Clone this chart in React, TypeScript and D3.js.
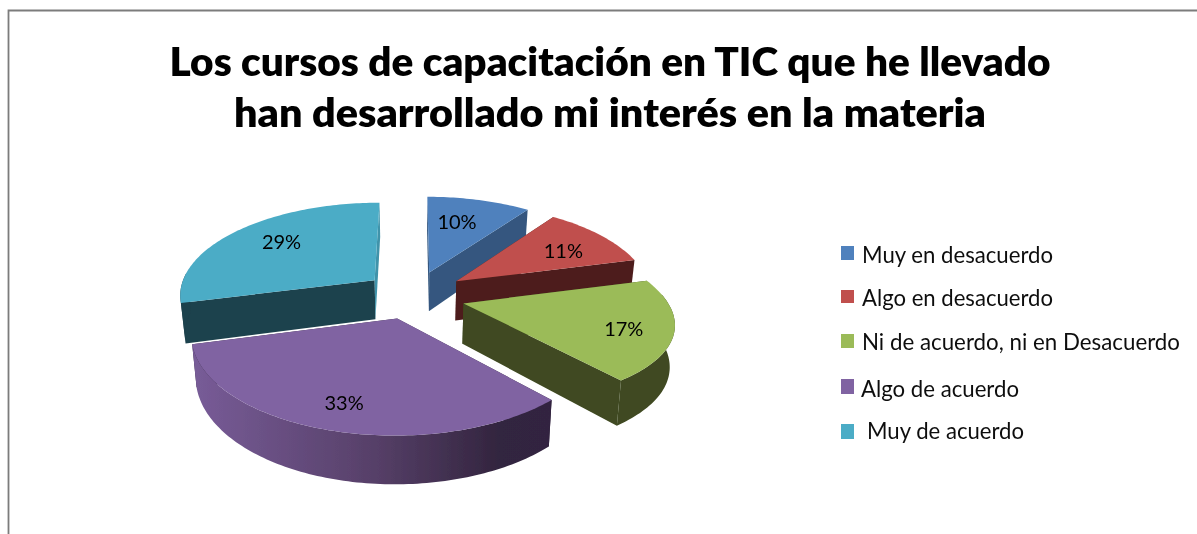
import React from "react";
import * as d3 from "d3";

const titleLines = ["Los cursos de capacitación en TIC que he llevado", "han desarrollado mi interés en la materia"];
const categories = ["Muy en desacuerdo", "Algo en desacuerdo", "Ni de acuerdo, ni en Desacuerdo", "Algo de acuerdo", "Muy de acuerdo"];
const values = [10, 11, 17, 33, 29];
const topColors = ["#4F81BD", "#C0504D", "#9BBB59", "#8064A2", "#4BACC6"];
const sideColors = ["#34577F", "#4D1E1C", "#3F4A20", "url(#purpleSide)", "#1E424D"];
const endCutColors = ["#34577F", "#4D1E1C", "#3F4A20", "#33253F", "#3F93AA"];

// layout
const W = 1197, H = 534;
const CX = 412, CY = 294.6, AX = 196, AY = 92.5, PERSP = 0.144, EXPLODE = 0.26, DEPTH = 40, SHRINK = 0.98;
const sliceShift = [[2, 0], [3, 0], [2, 2], [0, 0], [2, 0]];
const sliceBulge = [0, 0, 0.05, 0, 0];
const labelNudges = [[-4, -1.5], [14, 0], [34, 10], [-11, 16], [0, -5]];
const legendBaselines = [263, 306, 350, 397, 439];
const legendTextX = [862, 862, 862, 861, 867];
const legendTextW = [191, 191, 318, 158, 157];
const legendSwatchY = [246, 290, 334, 379, 424];
const legendSwatchH = [14, 13, 14, 15, 15];
const FONT = "Lato, 'Noto Sans', sans-serif";

type P = [number, number];
const project = (x: number, y: number): P => {
  const s = 1 / (1 - PERSP * y);
  return [CX + AX * x * s, CY + AY * y * s];
};
const projectBottom = (x: number, y: number): P => {
  const s = 1 / (1 - PERSP * y);
  return [CX + AX * x * s * SHRINK, CY + AY * y * s + DEPTH * s];
};
const toPath = d3.line<P>();

const arcs = d3.pie<number>().sort(null).startAngle(0).endAngle(2 * Math.PI)(values);

const slices = arcs.map((a, i) => {
  const mid = (a.startAngle + a.endAngle) / 2;
  const ox = EXPLODE * Math.sin(mid);
  const oy = -EXPLODE * Math.cos(mid);
  const span = a.endAngle - a.startAngle;
  const n = Math.ceil(span / 0.02);
  const [sx, sy] = sliceShift[i];
  const shift = ([x, y]: P): P => [x + sx, y + sy];
  const thetas = d3.range(n + 1).map((k) => a.startAngle + (span * k) / n);
  const world = thetas.map((t, k) => {
    const r = 1 + sliceBulge[i] * Math.sin((Math.PI * k) / n);
    return [ox + r * Math.sin(t), oy - r * Math.cos(t)] as P;
  });
  const topArc = world.map(([x, y]) => shift(project(x, y)));
  const botArc = world.map(([x, y]) => shift(projectBottom(x, y)));
  const apexT = shift(project(ox, oy));
  const apexB = shift(projectBottom(ox, oy));
  const top = toPath([apexT, ...topArc])! + "Z";
  const cutStart = toPath([apexT, topArc[0], botArc[0], apexB])! + "Z";
  const cutEnd = toPath([apexT, topArc[n], botArc[n], apexB])! + "Z";
  const front = thetas.map((t, k) => (Math.cos(t) < 0.1 ? k : -1)).filter((k) => k >= 0);
  const outer = front.length > 1
    ? toPath([...front.map((k) => topArc[k]), ...[...front].reverse().map((k) => botArc[k])])! + "Z"
    : "";
  const lab = project(ox + 0.65 * Math.sin(mid), oy - 0.65 * Math.cos(mid));
  return {
    i, top, cutStart, cutEnd, outer,
    label: `${values[i]}%`,
    lx: lab[0] + labelNudges[i][0],
    ly: lab[1] + labelNudges[i][1],
  };
});
const drawOrder = [0, 4, 1, 2, 3];

export default function App() {
  return (
    <svg width={W} height={H} viewBox={`0 0 ${W} ${H}`} style={{ position: "absolute", left: 0, top: 0, display: "block", background: "#fff" }}>
      <defs>
        <linearGradient id="purpleSide" gradientUnits="userSpaceOnUse" x1="192" x2="552" y1="0" y2="0">
          <stop offset="0" stopColor="#785C98" />
          <stop offset="0.5" stopColor="#574069" />
          <stop offset="0.85" stopColor="#33253F" />
          <stop offset="1" stopColor="#32243F" />
        </linearGradient>
        <filter id="soft" x="0" y="0" width="100%" height="100%">
          <feGaussianBlur stdDeviation="0.4" />
        </filter>
      </defs>
      <g filter="url(#soft)">
        <rect x={0} y={0} width={W} height={H} fill="#fff" />
        <path d={`M${W + 5},10.5H8.5V${H + 5}`} fill="none" stroke="#7c7c7c" strokeWidth={1.8} />
        <g fontFamily={FONT} fontWeight={800} fontSize={40} fill="#000" textAnchor="middle">
          <text x={610} y={76} textLength={881} lengthAdjust="spacingAndGlyphs">{titleLines[0]}</text>
          <text x={610} y={127} textLength={752} lengthAdjust="spacingAndGlyphs">{titleLines[1]}</text>
        </g>
        {drawOrder.map((idx) => {
          const s = slices[idx];
          return (
            <g key={idx}>
              <path d={s.cutStart} fill={sideColors[idx]} />
              <path d={s.cutEnd} fill={endCutColors[idx]} />
              {s.outer && <path d={s.outer} fill={sideColors[idx]} />}
              <path d={s.top} fill={topColors[idx]} />
            </g>
          );
        })}
        <g fontFamily={FONT} fontSize={20} fill="#000" textAnchor="middle">
          {slices.map((s) => (
            <text key={s.i} x={s.lx} y={s.ly + 7}>{s.label}</text>
          ))}
        </g>
        <g fontFamily={FONT} fontSize={23} fill="#111">
          {categories.map((c, i) => (
            <g key={c}>
              <rect x={841} y={legendSwatchY[i]} width={13} height={legendSwatchH[i]} fill={topColors[i]} />
              <text x={legendTextX[i]} y={legendBaselines[i]} textLength={legendTextW[i]} lengthAdjust="spacingAndGlyphs">{c}</text>
            </g>
          ))}
        </g>
      </g>
    </svg>
  );
}
